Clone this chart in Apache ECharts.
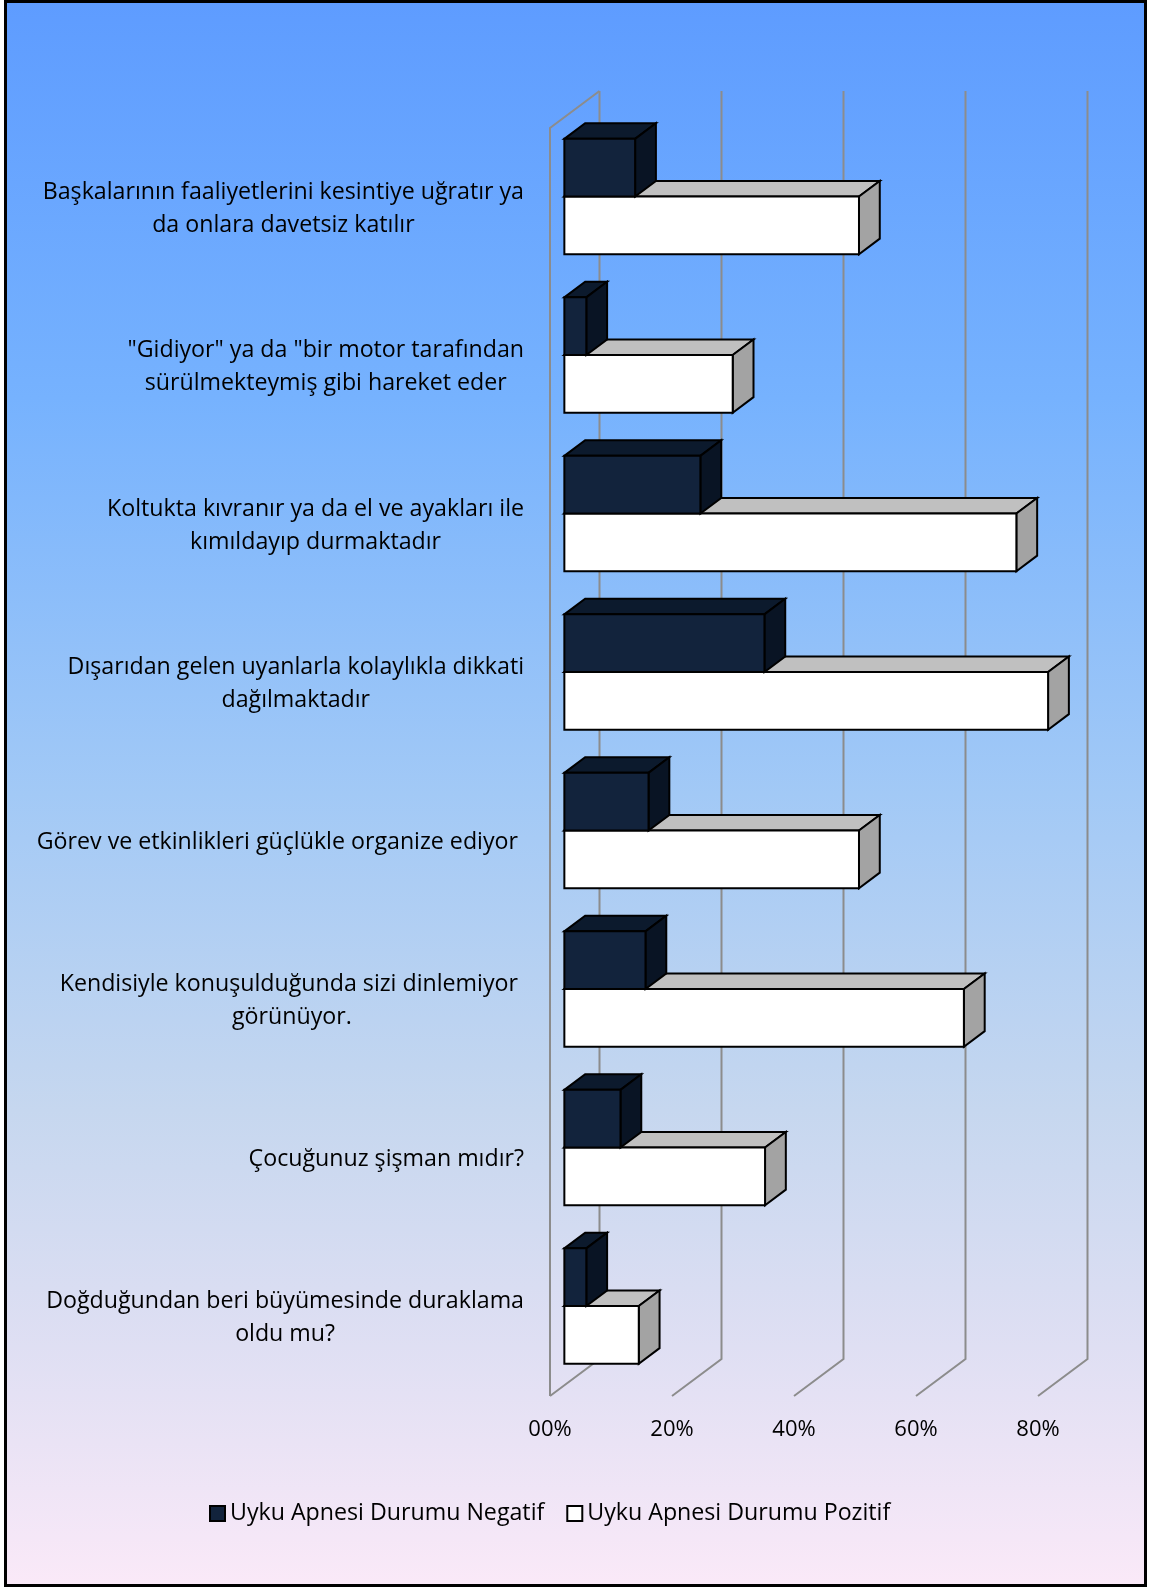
<!DOCTYPE html>
<html><head><meta charset="utf-8">
<script src="https://cdn.jsdelivr.net/npm/echarts@6/dist/echarts.min.js"></script>
<style>
html,body{margin:0;padding:0;background:#fff;}
#bg{position:absolute;left:4px;top:0;width:1143px;height:1587px;box-sizing:border-box;border:3px solid #000;
background:linear-gradient(to bottom,#5e9cff 0%,#76b2fe 25%,#a2c9f6 50%,#c6d7ef 70%,#dfdff3 85%,#fae9f8 100%);}
#chart{position:absolute;left:0;top:0;width:1150px;height:1588px;}
</style></head><body><div id="bg"></div><div id="chart"></div>
<script>
const categories = [
  "Başkalarının faaliyetlerini kesintiye uğratır ya\nda onlara davetsiz katılır",
  "\"Gidiyor\" ya da \"bir motor tarafından\nsürülmekteymiş gibi hareket eder",
  "Koltukta kıvranır ya da el ve ayakları ile\nkımıldayıp durmaktadır",
  "Dışarıdan gelen uyanlarla kolaylıkla dikkati\ndağılmaktadır",
  "Görev ve etkinlikleri güçlükle organize ediyor ",
  "Kendisiyle konuşulduğunda sizi dinlemiyor \ngörünüyor.",
  "Çocuğunuz şişman mıdır?",
  "Doğduğundan beri büyümesinde duraklama\noldu mu?"
];
const negatif = [11.6, 3.6, 22.3, 32.8, 13.8, 13.3, 9.2, 3.6];
const pozitif = [48.3, 27.6, 74.1, 79.3, 48.3, 65.5, 32.9, 12.2];
const xTicks = [0, 20, 40, 60, 80];
const seriesNames = ["Uyku Apnesi Durumu Negatif", "Uyku Apnesi Durumu Pozitif"];

const FONT = "Open Sans";
const FS = 23.2;
const FSX = 22;
const DX = 49.5, DY = -37, F0 = 0.29, F1 = 0.71, BAR = 0.364;

function barRenderer(kind) {
  const cols = kind === 'neg'
    ? {front: '#12233c', top: '#0c1a2d', side: '#091424'}
    : {front: '#ffffff', top: '#c0c0c0', side: '#a3a3a3'};
  return function (params, api) {
    const v = api.value(0), i = api.value(1);
    const p0 = api.coord([0, i]), p1 = api.coord([v, i]);
    const band = api.size([0, 1])[1];
    const h = band * BAR;
    const yc = p0[1] + F0 * DY;
    const x0 = p0[0] + F0 * DX, x1 = p1[0] + F0 * DX;
    const yTop = kind === 'neg' ? yc - h : yc;
    const yBot = kind === 'neg' ? yc : yc + h;
    const ddx = (F1 - F0) * DX, ddy = (F1 - F0) * DY;
    const st = {stroke: '#000', lineWidth: 2};
    return {type: 'group', children: [
      {type: 'polygon', shape: {points: [[x0, yTop], [x1, yTop], [x1 + ddx, yTop + ddy], [x0 + ddx, yTop + ddy]]}, style: Object.assign({fill: cols.top}, st)},
      {type: 'polygon', shape: {points: [[x1, yTop], [x1 + ddx, yTop + ddy], [x1 + ddx, yBot + ddy], [x1, yBot]]}, style: Object.assign({fill: cols.side}, st)},
      {type: 'rect', shape: {x: x0, y: yTop, width: x1 - x0, height: yBot - yTop}, style: Object.assign({fill: cols.front}, st)}
    ]};
  };
}

function wallRenderer(params, api) {
  const t = api.value(0);
  const cs = params.coordSys;
  const top = cs.y, bot = cs.y + cs.height;
  const x = api.coord([t, 0])[0];
  const ls = {stroke: '#8c8c8c', lineWidth: 2, fill: null};
  const children = [
    {type: 'polyline', shape: {points: [[x, bot], [x + DX, bot + DY], [x + DX, top + DY]]}, style: ls}
  ];
  if (t === 0) {
    children.push({type: 'polyline', shape: {points: [[x + DX, top + DY], [x, top], [x, bot]]}, style: ls});
  }
  return {type: 'group', children: children};
}

const chart = echarts.init(document.getElementById('chart'), null, {renderer: 'canvas'});
chart.setOption({
  backgroundColor: 'transparent',
  animation: false,
  textStyle: {fontFamily: FONT},
  grid: {left: 550, top: 128, width: 488, height: 1268, containLabel: false},
  xAxis: {
    type: 'value', min: 0, max: 80, interval: 20,
    axisLine: {show: false}, axisTick: {show: false}, splitLine: {show: false},
    axisLabel: {
      margin: 23, color: '#000', fontSize: FSX, fontFamily: FONT,
      formatter: function (v) { return (v === 0 ? '00' : v) + '%'; }
    }
  },
  yAxis: {
    type: 'category', data: categories, inverse: true,
    axisLine: {show: false}, axisTick: {show: false}, splitLine: {show: false},
    axisLabel: {
      margin: 26, color: '#000', fontSize: FS, fontFamily: FONT, lineHeight: 33,
      formatter: function (v) { return v.split('\n').map(function (l) { return '{c|' + l + '}'; }).join('\n'); },
      rich: {c: {align: 'center', fontSize: FS, fontFamily: FONT, color: '#000', lineHeight: 33, padding: [3, 0, 0, 0]}}
    }
  },
  legend: {
    data: seriesNames, left: 209, top: 1502, padding: 0,
    itemWidth: 15, itemHeight: 15, itemGap: 22, icon: 'rect',
    itemStyle: {borderColor: '#000', borderWidth: 2},
    textStyle: {fontSize: FS, fontFamily: FONT, color: '#000'}
  },
  series: [
    {type: 'custom', name: 'wall', z: 1, silent: true, clip: false,
     renderItem: wallRenderer, data: xTicks.map(function (t) { return [t, 0]; })},
    {type: 'custom', name: seriesNames[1], z: 3, clip: false, itemStyle: {color: '#ffffff'},
     renderItem: barRenderer('pos'), encode: {x: 0, y: 1},
     data: pozitif.map(function (v, i) { return [v, i]; })},
    {type: 'custom', name: seriesNames[0], z: 4, clip: false, itemStyle: {color: '#12233c'},
     renderItem: barRenderer('neg'), encode: {x: 0, y: 1},
     data: negatif.map(function (v, i) { return [v, i]; })}
  ]
});
</script>
</body></html>
